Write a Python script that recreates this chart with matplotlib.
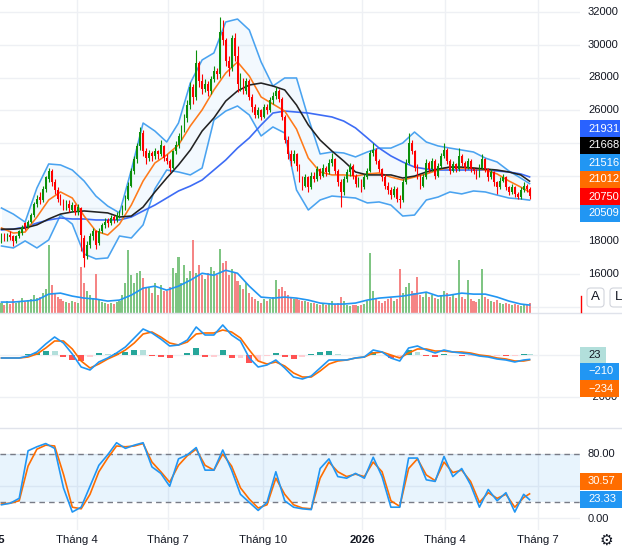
import numpy as np
import matplotlib
matplotlib.use("Agg")
import matplotlib.pyplot as plt
from matplotlib.patches import Rectangle, FancyBboxPatch
from matplotlib.lines import Line2D
from matplotlib.transforms import blended_transform_factory

plt.rcParams['font.family'] = ['Liberation Sans', 'DejaVu Sans']

# ---------------- data (prices in thousand VND) ----------------
opens_k = [18.1,18.4,18.1,18.4,18.3,18.0,18.3,18.5,19.1,18.9,
           19.2,19.6,20.3,20.7,20.5,21.2,21.8,22.3,21.6,21.1,
           20.6,20.4,20.0,20.3,19.9,20.2,19.8,20.0,18.2,17.1,
           17.8,18.3,18.6,17.9,18.6,19.0,19.3,19.1,19.5,19.3,
           19.6,19.7,20.0,20.6,21.4,22.3,23.0,23.8,24.6,23.5,
           23.1,23.4,23.2,23.5,23.3,23.8,23.1,22.9,22.5,23.5,
           23.9,24.4,24.9,25.5,26.3,27.4,26.8,28.9,27.8,27.3,
           27.6,27.2,27.9,28.4,28.2,30.8,30.3,29.0,28.6,30.4,
           29.3,27.6,27.9,27.2,27.8,26.8,26.2,25.7,26.0,25.6,
           26.2,26.0,26.6,26.9,27.2,26.7,25.6,24.2,23.3,22.9,
           23.3,22.6,21.8,21.4,21.9,21.3,22.0,21.8,22.4,22.0,
           22.5,22.2,22.8,23.0,22.3,21.6,21.0,21.8,22.2,22.6,
           22.0,21.5,21.7,21.3,21.9,22.3,23.4,23.6,22.9,22.4,
           21.9,21.4,21.1,20.8,21.2,20.6,20.5,21.6,22.8,24.0,
           23.5,22.5,22.0,21.4,21.9,22.8,22.4,22.9,22.0,22.6,
           23.2,23.6,22.9,22.3,22.7,22.4,23.2,22.8,22.5,22.9,
           22.4,22.3,22.0,22.5,23.0,22.4,21.9,22.2,21.6,21.3,
           21.7,21.9,21.3,21.0,21.3,20.9,20.7,21.1,21.4,21.2]
highs_k = [18.5,18.5,18.5,18.6,18.4,18.4,18.7,19.0,19.2,19.3,
           19.7,20.4,20.8,21.0,21.4,22.0,22.5,22.4,21.8,21.3,
           20.9,20.6,20.5,20.5,20.4,20.3,20.3,20.1,18.4,18.0,
           18.5,18.8,18.7,18.8,19.1,19.4,19.4,19.6,19.6,19.8,
           19.9,20.2,20.8,21.6,22.5,23.2,24.0,25.0,24.8,23.7,
           23.6,23.5,23.7,23.6,24.2,23.9,23.3,23.0,23.6,24.1,
           24.6,25.1,25.8,26.6,27.7,27.6,29.7,29.0,28.2,27.9,
           27.8,28.1,28.7,28.6,31.7,31.5,30.4,29.3,30.6,30.7,
           29.9,28.3,28.0,28.0,27.9,27.0,26.4,26.2,26.1,26.4,
           26.4,26.8,27.1,27.4,27.3,26.8,25.7,24.4,23.6,23.6,
           23.4,22.7,22.0,22.1,22.0,22.2,22.2,22.6,22.5,22.7,
           22.6,23.0,23.4,23.1,22.4,21.8,22.0,22.4,22.8,22.7,
           22.1,21.9,21.8,22.1,22.5,23.6,24.0,23.7,23.0,22.5,
           22.1,21.6,21.3,21.4,21.3,20.8,21.8,23.0,24.6,24.2,
           23.6,22.7,22.1,22.1,23.0,22.9,23.1,23.0,22.8,23.4,
           24.0,23.7,23.0,22.9,22.8,23.7,23.3,22.9,23.1,23.0,
           22.5,22.4,22.7,23.3,23.1,22.5,22.4,22.3,21.7,21.9,
           22.1,22.0,21.4,21.5,21.4,21.0,21.3,21.6,21.5,21.3]
lows_k = [17.9,18.0,18.0,18.1,17.7,17.9,18.2,18.4,18.7,18.8,
          19.1,19.5,20.1,20.3,20.4,21.0,21.6,21.4,20.9,20.4,
          20.2,19.9,19.9,19.8,19.8,19.6,19.6,17.4,16.4,16.9,
          17.6,18.1,17.5,17.8,18.5,18.8,18.9,19.0,19.1,19.2,
          19.4,19.6,19.9,20.5,21.3,22.1,22.8,23.6,23.2,22.7,
          22.9,22.9,23.0,23.0,23.2,22.9,22.7,22.2,22.4,23.3,
          23.7,24.2,24.7,25.3,26.1,26.4,26.6,27.4,27.0,27.1,
          26.9,27.0,27.7,27.9,28.0,30.0,28.7,28.1,28.4,29.0,
          27.1,27.2,27.0,27.0,26.6,25.9,25.5,25.5,25.4,25.5,
          25.8,25.9,26.4,26.7,26.5,25.4,24.0,23.0,22.6,22.8,
          22.3,21.6,21.1,21.3,21.0,21.2,21.6,21.7,21.8,21.9,
          22.0,22.1,22.6,22.1,21.4,20.1,20.8,21.6,22.0,21.8,
          21.3,21.3,21.0,21.2,21.8,22.2,23.2,22.7,22.2,21.7,
          21.2,20.9,20.6,20.7,20.4,20.0,20.4,21.5,22.7,23.3,
          22.3,21.8,21.2,21.3,21.8,22.2,22.3,21.8,21.9,22.5,
          23.1,22.7,22.1,22.2,22.2,22.3,22.6,22.3,22.4,22.2,
          22.1,21.8,21.9,22.4,22.2,21.7,21.8,21.4,20.9,21.2,
          21.6,21.1,20.8,20.9,20.7,20.55,20.6,21.0,21.0,20.6]
closes_k = [18.3,18.2,18.35,18.25,18.0,18.3,18.6,18.9,18.85,19.2,
            19.6,20.3,20.6,20.5,21.2,21.9,22.3,21.6,21.1,20.6,
            20.4,20.1,20.3,20.0,20.2,19.8,20.1,18.4,17.0,17.8,
            18.3,18.6,17.8,18.6,19.0,19.2,19.1,19.4,19.3,19.6,
            19.7,19.9,20.6,21.4,22.3,23.0,23.8,24.7,23.5,23.1,
            23.4,23.2,23.5,23.3,23.9,23.1,22.9,22.5,23.5,23.9,
            24.4,24.9,25.5,26.3,27.4,26.8,28.9,27.8,27.3,27.6,
            27.2,27.9,28.4,28.2,30.8,30.3,29.0,28.6,30.4,29.3,
            27.6,27.9,27.2,27.8,26.8,26.2,25.7,26.0,25.6,26.2,
            26.0,26.6,26.9,27.2,26.7,25.6,24.2,23.3,22.9,23.3,
            22.6,21.8,21.4,21.9,21.3,22.0,21.8,22.4,22.0,22.5,
            22.2,22.8,23.0,22.3,21.6,21.0,21.8,22.2,22.6,22.0,
            21.5,21.7,21.3,21.9,22.3,23.4,23.6,22.9,22.4,21.9,
            21.4,21.1,20.8,21.2,20.6,20.5,21.6,22.8,24.0,23.5,
            22.5,22.0,21.4,21.9,22.8,22.4,22.9,22.0,22.6,23.2,
            23.6,22.9,22.3,22.7,22.4,23.2,22.8,22.5,22.9,22.4,
            22.3,22.0,22.5,23.0,22.4,21.9,22.2,21.6,21.3,21.7,
            21.9,21.3,21.0,21.3,20.9,20.7,21.1,21.4,21.2,20.75]
volumes = [10,8,12,9,14,10,12,15,11,13,
           14,18,15,16,20,24,68,28,20,16,
           14,12,11,10,12,11,10,46,30,22,
           18,15,39,13,11,10,9,10,9,11,
           12,18,30,63,38,30,40,42,35,25,
           25,20,30,18,28,22,22,26,45,40,
           56,30,48,35,42,73,40,48,38,34,
           40,46,42,38,64,50,52,38,44,40,
           32,28,24,30,20,16,14,12,10,14,
           12,14,16,33,24,26,22,18,16,14,
           14,13,12,12,11,10,10,9,8,10,
           8,10,12,9,10,16,12,8,7,8,
           8,7,8,9,12,60,22,15,12,10,
           12,14,15,12,14,44,20,26,30,22,
           20,36,18,16,20,16,18,15,14,18,
           22,20,16,18,15,53,16,14,33,14,
           12,11,14,44,16,14,12,11,13,10,
           9,10,9,8,9,8,7,9,8,10]

# price-pane indicator lines, read at every 4th bar
line_idx = list(range(0, 177, 4)) + [179]
bb_upper_k = [20.03,19.66,19.17,21.25,22.72,22.66,22.35,21.68,20.76,20.15,
              19.73,22.35,25.22,24.73,24.06,25.22,27.66,29.07,29.50,31.39,
              31.57,30.90,28.95,27.48,27.97,27.97,25.53,23.33,23.45,23.39,
              23.15,23.45,23.69,23.69,24.00,24.67,24.06,23.82,23.69,23.57,
              23.45,23.08,22.84,22.29,21.86,21.52]
bb_basis_k = [18.81,18.50,18.56,19.48,20.52,21.01,20.64,19.54,18.62,18.38,
              19.05,20.21,21.68,22.78,23.27,23.88,25.04,26.02,27.24,28.27,
              28.95,28.09,26.81,26.38,25.95,24.85,23.08,22.23,22.05,22.05,
              21.98,22.11,22.17,21.92,21.74,21.92,22.11,22.35,22.53,22.47,
              22.47,22.35,22.11,21.68,21.31,21.01]
bb_lower_k = [17.71,17.59,18.02,17.59,18.08,19.60,19.05,17.22,16.92,16.98,
              18.32,18.20,19.00,21.20,22.35,22.23,22.05,22.47,25.40,25.95,
              26.26,25.71,24.43,24.98,24.61,21.13,19.91,20.52,20.76,20.70,
              20.64,20.34,20.40,20.21,19.54,19.60,20.52,20.70,21.01,20.89,
              21.07,21.01,20.82,20.64,20.58,20.51]
ma50_k = [18.74,18.74,18.81,19.00,19.36,19.66,19.79,19.85,19.79,19.73,
          19.48,19.54,20.09,21.01,21.86,22.66,23.57,24.73,25.53,26.56,
          27.18,27.54,27.66,27.48,27.24,26.32,25.10,24.18,23.51,22.90,
          22.23,22.05,22.05,22.05,21.86,21.98,22.23,22.41,22.53,22.53,
          22.47,22.41,22.35,22.23,22.05,21.67]
ma200_k = [18.69,18.74,18.87,19.11,19.30,19.42,19.36,19.36,19.30,19.30,
           19.30,19.48,19.85,20.21,20.64,21.07,21.37,21.74,22.35,22.96,
           23.69,24.31,25.10,25.83,25.95,25.89,25.83,25.71,25.59,25.34,
           24.92,24.31,23.69,23.21,22.84,22.53,22.41,22.35,22.35,22.35,
           22.35,22.35,22.29,22.23,22.11,21.93]
vol_ma = [11,11,12,13,19,20,17,15,14,12,
          13,18,25,27,23,27,33,40,38,43,
          40,27,16,15,16,15,13,10,9,9,
          10,13,15,16,17,19,21,17,18,20,
          19,19,16,12,9,8]

# oscillators, read at every 3rd bar
osc_idx = list(range(0, 178, 3)) + [179]
macd_line = [-143,-143,-143,-48,143,524,857,571,48,-571,
             -714,-333,-143,95,381,810,1238,1048,762,429,
             476,714,1333,952,952,1429,952,667,-143,-571,
             -476,-238,-619,-1048,-1143,-1000,-619,-238,-238,-238,
             -143,-95,238,143,-143,-286,333,429,238,95,
             238,143,95,48,-48,-95,-190,-238,-333,-238,-210]
macd_signal = [-143,-143,-143,-95,48,333,667,667,286,-286,
               -619,-429,-190,0,238,571,1000,1095,857,571,
               476,619,1000,1048,1048,1190,1095,810,238,-286,
               -429,-333,-524,-857,-1048,-1048,-762,-429,-286,-238,
               -143,-95,95,143,0,-143,95,286,286,190,
               190,143,143,95,0,-48,-143,-190,-286,-286,-234]
stoch_k = [17,19,25,84,89,93,87,38,8,14,
           40,66,79,94,87,91,94,64,56,40,
           74,79,88,60,60,85,60,30,20,10,
           20,58,22,14,12,11,62,74,52,50,
           56,50,76,52,14,14,75,75,48,46,
           77,52,62,42,14,36,22,32,8,30,23.33]
stoch_d = [18,19,22,65,86,91,90,55,14,12,
           30,58,75,90,89,90,93,70,58,45,
           66,78,86,66,60,80,65,38,24,13,
           17,50,30,17,13,12,50,70,58,52,
           55,52,70,58,22,15,62,74,54,47,
           70,57,60,46,20,32,25,30,14,26,30.57]

time_labels = ["2025", "Tháng 4", "Tháng 7", "Tháng 10", "2026", "Tháng 4", "Tháng 7"]
time_bars = [-3.2, 25.6, 56.4, 88.6, 122.2, 150.3, 181.9]
time_bold = [True, False, False, False, True, False, False]

price_tick_labels = [32000, 30000, 28000, 26000, 18000, 16000]
price_grid = [14000, 16000, 18000, 20000, 22000, 24000, 26000, 28000, 30000, 32000]
price_badges = ["21931", "21668", "21516", "21012", "20750", "20509"]
macd_badges = ["23", "\u2212210", "\u2212234"]
stoch_badges = ["30.57", "23.33"]

# ---------------- layout helpers (pixels) ----------------
W, H = 622, 549
fig = plt.figure(figsize=(W / 100, H / 100), dpi=100)
fig.patch.set_facecolor('white')

def fx(px):
    return px / W

def fy(py):
    return 1 - py / H

PR = 580  # right edge of plotting area
rect_price = [0, fy(313), fx(PR), 313 / H]
ax_v = fig.add_axes(rect_price, zorder=0)
ax_p = fig.add_axes(rect_price, zorder=1)
ax_p.patch.set_alpha(0)
ax_m = fig.add_axes([0, fy(428), fx(PR), 115 / H])
ax_s = fig.add_axes([0, fy(530), fx(PR), 102 / H])

XL = (-0.508, 196.1)
for a in (ax_v, ax_p, ax_m, ax_s):
    a.set_xlim(*XL)
    for sp in a.spines.values():
        sp.set_visible(False)
    a.set_xticks([])
    a.set_yticks([])

GRID = '#eef0f4'
for a in (ax_v, ax_m, ax_s):
    for tb in time_bars[1:]:
        a.axvline(tb, color=GRID, lw=1, zorder=0)

# ---------------- price pane ----------------
o = np.array(opens_k) * 1000
h = np.array(highs_k) * 1000
l = np.array(lows_k) * 1000
c = np.array(closes_k) * 1000
xb = np.arange(len(c))
up = c >= o
GREEN, RED = '#0a8f0a', '#ff0000'
ccol = np.where(up, GREEN, RED)

ax_p.set_ylim(13618, 32733)
for g in price_grid:
    ax_v.axhline((g - 13618) / (32733 - 13618) * 315, color=GRID, lw=1, zorder=0)

li = np.array(line_idx)
ax_p.fill_between(li, np.array(bb_lower_k) * 1000, np.array(bb_upper_k) * 1000,
                  color='#2196f3', alpha=0.05, lw=0, zorder=1)
ax_p.plot(li, np.array(bb_upper_k) * 1000, color='#4aa3f0', lw=1.15, zorder=2)
ax_p.plot(li, np.array(bb_lower_k) * 1000, color='#4aa3f0', lw=1.15, zorder=2)
ax_p.plot(li, np.array(ma200_k) * 1000, color='#3d6cf5', lw=1.2, zorder=2)
ax_p.plot(li, np.array(bb_basis_k) * 1000, color='#ff7a1a', lw=1.15, zorder=3)
ax_p.plot(li, np.array(ma50_k) * 1000, color='#222222', lw=1.15, zorder=3)

ax_p.vlines(xb, l, h, colors=ccol, lw=0.8, zorder=4)
body_lo = np.minimum(o, c)
body_h = np.maximum(np.abs(c - o), 30)
ax_p.bar(xb, body_h, bottom=body_lo, width=0.6, color=ccol, lw=0, zorder=5)

# volume overlay
vcol = np.where(up, '#7fc583', '#f58585')
ax_v.set_ylim(0, 315)
ax_v.bar(xb, volumes, width=0.7, color=vcol, lw=0, zorder=1)
ax_v.plot(li, vol_ma, color='#2196f3', lw=1.2, zorder=2)

# ---------------- MACD pane ----------------
ax_m.set_ylim(-3476, 2000)
for g in (0, -2000):
    ax_m.axhline(g, color=GRID, lw=1, zorder=0)
oi = np.array(osc_idx)
macd_a = np.array(macd_line, float)
sig_a = np.array(macd_signal, float)
hist = macd_a - sig_a
prev = np.concatenate([[hist[0]], hist[:-1]])
hcol = []
for hv, pv in zip(hist, prev):
    if hv >= 0:
        hcol.append('#26a69a' if hv >= pv else '#b2dfdb')
    else:
        hcol.append('#ff5252' if hv < pv else '#ffcdd2')
ax_m.bar(oi, hist, width=2.0, color=hcol, lw=0, zorder=1)
ax_m.plot(oi, macd_a, color='#2196f3', lw=1.2, zorder=3)
ax_m.plot(oi, sig_a, color='#ff6d00', lw=1.2, zorder=2)

# ---------------- Stochastic pane ----------------
ax_s.set_ylim(-14.3, 112.3)
for g in (0, 40, 80):
    ax_s.axhline(g, color=GRID, lw=1, zorder=0)
ax_s.axhspan(20, 80, color='#2196f3', alpha=0.1, lw=0, zorder=0)
for g in (80, 20):
    ax_s.axhline(g, color='#787b86', lw=1, ls=(0, (4, 3)), zorder=1)
ax_s.plot(oi, stoch_k, color='#2196f3', lw=1.2, zorder=3)
ax_s.plot(oi, stoch_d, color='#ff6d00', lw=1.2, zorder=2)

# ---------------- separators ----------------
for py in (313, 428):
    fig.add_artist(Line2D([0, 1], [fy(py), fy(py)], color='#e0e3eb', lw=1))

# ---------------- right axis labels ----------------
FS = 8.0
TXT = '#131722'
for v in price_tick_labels:
    py = 12 + (32000 - v) / 2000 * 32.75
    fig.text(fx(588), fy(py), str(v), ha='left', va='center', fontsize=FS, color=TXT)

def badge(py, text, bg, fg='white', x0=580, x1=620, hgt=17):
    fig.add_artist(Rectangle((fx(x0), fy(py + hgt / 2)), fx(x1) - fx(x0), hgt / H,
                             facecolor=bg, edgecolor='none', zorder=3))
    fig.text(fx(588), fy(py), text, ha='left', va='center', fontsize=FS, color=fg, zorder=4)

badge_cols = ['#2962ff', '#000000', '#2196f3', '#ff6d00', '#ff0000', '#2196f3']
for py, t, col in zip([128.5, 145.5, 162.5, 179.5, 196.5, 213.5], price_badges, badge_cols):
    badge(py, t, col)

# MACD axis
fig.text(fx(586), fy(397), "\u22122000", ha='left', va='center', fontsize=FS, color=TXT, zorder=1)
badge(355, macd_badges[0], '#b2dfdb', fg=TXT, x1=606)
badge(371.5, macd_badges[1], '#2196f3', x1=619)
badge(388.5, macd_badges[2], '#ff6d00', x1=619)

# Stochastic axis
fig.text(fx(588), fy(454), "80.00", ha='left', va='center', fontsize=FS, color=TXT)
fig.text(fx(588), fy(519), "0.00", ha='left', va='center', fontsize=FS, color=TXT)
badge(481.5, stoch_badges[0], '#ff6d00', x1=622)
badge(499.5, stoch_badges[1], '#2196f3', x1=622)

# A / L buttons and marker
for bx, t in ((587, "A"), (610, "L")):
    fig.add_artist(FancyBboxPatch((fx(bx), fy(307)), fx(17), 19 / H,
                                  boxstyle="round,pad=0,rounding_size=0.006",
                                  facecolor='white', edgecolor='#d1d4dc', lw=0.8))
    fig.text(fx(bx + 8.5), fy(297.5), t, ha='center', va='center', fontsize=9.5, color=TXT)
fig.add_artist(Line2D([fx(580.5), fx(580.5)], [fy(296), fy(312)], color='#ff0000', lw=1))

# ---------------- time axis ----------------
tt = blended_transform_factory(ax_s.transData, fig.transFigure)
for tb, lab, bold in zip(time_bars, time_labels, time_bold):
    ax_s.text(tb, fy(540), lab, transform=tt, ha='center', va='center', fontsize=8.2,
              color=TXT, fontweight='bold' if bold else 'normal', clip_on=False)
fig.text(fx(606), fy(540), "\u2699", ha='center', va='center', fontsize=11,
         color=TXT, family='DejaVu Sans')

fig.savefig('out.png', dpi=100)
